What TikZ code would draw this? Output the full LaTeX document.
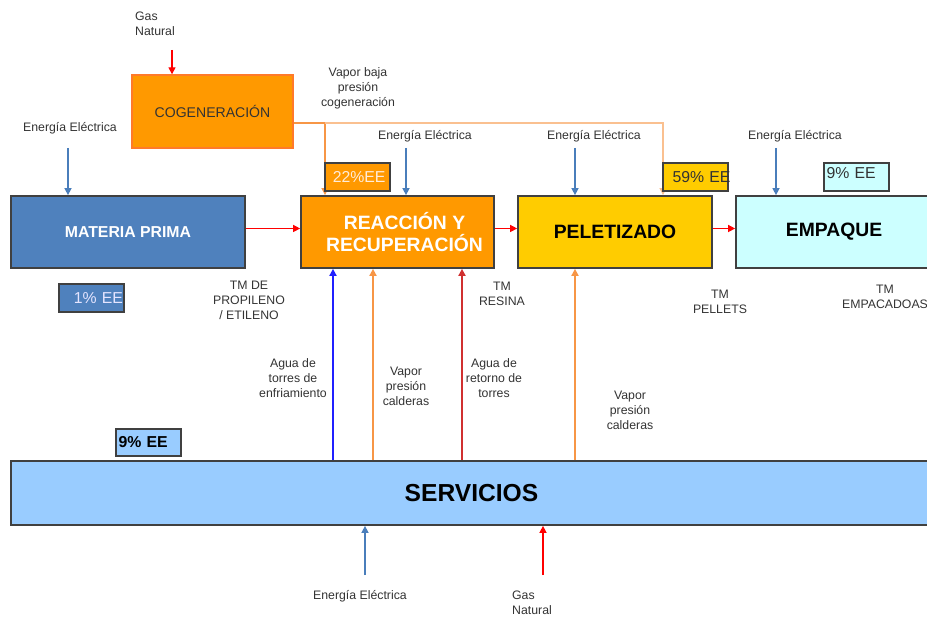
\documentclass[tikz,border=0pt]{standalone}
\usepackage{fontspec}
\setmainfont{Liberation Sans}
\usepackage{tikz}
\usetikzlibrary{arrows.meta, positioning}
\definecolor{cogorange}{HTML}{FF9900}
\definecolor{cogedge}{HTML}{FF7A2A}
\definecolor{mpblue}{HTML}{4F81BD}
\definecolor{peletyellow}{HTML}{FFCC00}
\definecolor{empcyan}{HTML}{CCFFFF}
\definecolor{servblue}{HTML}{99CCFF}
\definecolor{darkline}{HTML}{404040}
\definecolor{labelgray}{HTML}{333333}
\definecolor{elecblue}{HTML}{4A7EBB}
\definecolor{steamorange}{HTML}{F79646}
\definecolor{lightsteam}{HTML}{FAC090}
\definecolor{waterblue}{HTML}{2020FF}
\definecolor{returnred}{HTML}{D03030}
\tikzset{
  block/.style={
    rectangle, draw=darkline, line width=1pt,
    minimum height=1.44cm, align=center, inner sep=2pt,
    font=\fontsize{11}{13}\selectfont\bfseries
  },
  eebox/.style={
    rectangle, draw=darkline, line width=1pt,
    minimum width=1.3cm, minimum height=0.56cm, inner sep=1pt,
    text width=1.2cm, align=left,
    font=\fontsize{9}{10}\selectfont
  },
  lbl/.style={font=\fontsize{7}{8.5}\selectfont, text=labelgray, align=center, inner sep=1pt},
  tip/.style={-{Triangle[length=4pt,width=4pt]}, line width=0.8pt},
  elec/.style={tip, draw=elecblue},
  gasline/.style={tip, draw=red},
  flow/.style={tip, draw=red},
}

\begin{document}
\begin{tikzpicture}[x=0.02cm, y=-0.02cm]
  \useasboundingbox (0,0) rectangle (927,618);

  % Main blocks
  \node[block, fill=cogorange, draw=cogedge, line width=0.8pt, minimum width=3.22cm, minimum height=1.46cm,
        font=\fontsize{8}{10}\selectfont, text=labelgray] (cog) at (212.5,111.5) {COGENERACIÓN};
  \node[block, fill=mpblue, text=white, minimum width=4.68cm, font=\fontsize{9}{11}\selectfont\bfseries] (mp) at (128,232) {MATERIA PRIMA};
  \node[block, fill=cogorange, text=white, minimum width=3.86cm] (reac) at (397.5,232) {\hspace*{8pt}REACCIÓN Y\\\hspace*{8pt}RECUPERACIÓN};
  \node[block, fill=peletyellow, text=black, minimum width=3.88cm] (pel) at (615,232) {PELETIZADO};
  \node[block, fill=empcyan, text=black, minimum width=3.92cm] (emp) at (834,232) {EMPAQUE};
  \node[block, fill=servblue, text=black, minimum width=18.42cm, minimum height=1.28cm,
        font=\fontsize{14}{16}\selectfont\bfseries] (serv) at (471.5,493) {SERVICIOS};

  % Steam from cogeneration
  \coordinate (vb1) at (325,123);
  \coordinate (vb2) at (663,123);
  \draw[line width=0.9pt, draw=steamorange] (cog.east |- vb1) -- (vb1);
  \draw[tip, draw=steamorange] (vb1) -- (vb1 |- reac.north);
  \draw[tip, draw=lightsteam] (vb1) -- (vb2) -- (vb2 |- pel.north);
  \node[lbl] (vbaja) at (358,88) {Vapor baja\\presión\\cogeneración};

  % Percentage boxes
  \node[eebox, fill=cogorange, text=orange!15] (ee22) at (357.5,177) {\mbox{\hspace*{3pt}22\%EE}};
  \node[eebox, fill=peletyellow, text=labelgray] (ee59) at (695.5,177) {\mbox{\hspace*{4pt}59\% EE}};
  \node[eebox, fill=empcyan, text=labelgray, text height=7pt, text depth=5pt] (ee9e) at (856.5,177) {\mbox{9\% EE}};
  \node[eebox, fill=mpblue, text=blue!10] (ee1) at (91.5,298) {\mbox{\hspace*{7pt}1\% EE}};
  \node[eebox, fill=servblue, text=black, font=\fontsize{9}{10}\selectfont\bfseries, minimum height=0.54cm] (ee9s) at (148.5,442.5) {\mbox{9\% EE}};

  % Gas natural to cogeneration
  \node[lbl, align=left] (gas1) at (155,24) {Gas\\Natural};
  \coordinate (g1) at (172,50);
  \draw[gasline] (g1) -- (g1 |- cog.north);

  % Electric energy inputs
  \node[lbl] (en1) at (70,128) {Energía Eléctrica};
  \node[lbl] (en2) at (425,136) {Energía Eléctrica};
  \node[lbl] (en3) at (594,136) {Energía Eléctrica};
  \node[lbl] (en4) at (795,136) {Energía Eléctrica};
  \coordinate (e1) at (68,148);
  \coordinate (e2) at (406,148);
  \coordinate (e3) at (575,148);
  \coordinate (e4) at (776,148);
  \draw[elec] (e1) -- (e1 |- mp.north);
  \draw[elec] (e2) -- (e2 |- reac.north);
  \draw[elec] (e3) -- (e3 |- pel.north);
  \draw[elec] (e4) -- (e4 |- emp.north);

  % Main flow
  \foreach \a/\b in {mp/reac, reac/pel, pel/emp}{
    \draw[flow] ([yshift=2pt]\a.east) -- ([yshift=2pt]\b.west);
  }
  \node[lbl] (tm1) at (249,300) {TM DE\\PROPILENO\\/ ETILENO};
  \node[lbl] (tm2) at (502,294) {TM\\RESINA};
  \node[lbl] (tm3) at (720,302) {TM\\PELLETS};
  \node[lbl] (tm4) at (885,297) {TM\\EMPACADOAS};

  % Utilities to process
  \coordinate (u1) at (333,0);
  \coordinate (u2) at (373,0);
  \coordinate (u3) at (462,0);
  \coordinate (u4) at (575,0);
  \draw[tip, draw=waterblue, line width=1pt] (serv.north -| u1) -- (reac.south -| u1);
  \draw[tip, draw=steamorange, line width=1pt] (serv.north -| u2) -- (reac.south -| u2);
  \draw[tip, draw=returnred, line width=1pt] (serv.north -| u3) -- (reac.south -| u3);
  \draw[tip, draw=steamorange, line width=1pt] (serv.north -| u4) -- (pel.south -| u4);
  \node[lbl] (agua1) at (293,378) {Agua de\\torres de\\enfriamiento};
  \node[lbl] (vap1) at (406,386) {Vapor\\presión\\calderas};
  \node[lbl] (agua2) at (494,378) {Agua de\\retorno de\\torres};
  \node[lbl] (vap2) at (630,410) {Vapor\\presión\\calderas};

  % Inputs to utilities
  \node[lbl] (en5) at (360,596) {Energía Eléctrica};
  \node[lbl, align=left] (gas2) at (532,603) {Gas\\Natural};
  \coordinate (b1) at (365,575);
  \coordinate (b2) at (543,575);
  \draw[elec] (b1) -- (b1 |- serv.south);
  \draw[gasline] (b2) -- (b2 |- serv.south);

\end{tikzpicture}
\end{document}
